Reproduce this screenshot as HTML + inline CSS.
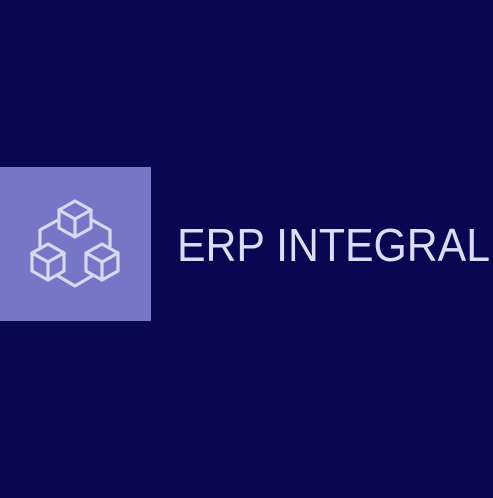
<!DOCTYPE html>
<html><head><style>
html,body{margin:0;padding:0;background:#070752;width:493px;height:498px;overflow:hidden}
</style></head><body>
<svg width="493" height="498" xmlns="http://www.w3.org/2000/svg">
<rect width="493" height="498" fill="#070752"/>
<rect x="0" y="167" width="151" height="154" fill="#7676c6"/>
<g fill="none" stroke="#d8d8f2" stroke-width="3.2" stroke-linejoin="round" stroke-linecap="round">
<!-- connecting hexagon -->
<polyline points="58,220 40,230 40,246"/>
<polyline points="92,220 110,230 110,246"/>
<polyline points="58,276 75,286 92,276"/>
<!-- top cube -->
<polygon points="75,201 91,210 91,228 75,237 59,228 59,210"/>
<polyline points="59,210 75,219 91,210"/><line x1="75" y1="219" x2="75" y2="237"/>
<!-- left cube -->
<polygon points="48,244 64,253 64,271 48,280 32,271 32,253"/>
<polyline points="32,253 48,262 64,253"/><line x1="48" y1="262" x2="48" y2="280"/>
<!-- right cube -->
<polygon points="102,244 118,253 118,271 102,280 86,271 86,253"/>
<polyline points="86,253 102,262 118,253"/><line x1="102" y1="262" x2="102" y2="280"/>
</g>
<text x="177" y="261" font-family="Liberation Sans, sans-serif" font-size="46" fill="#dcdcf6" textLength="313" lengthAdjust="spacingAndGlyphs">ERP INTEGRAL</text>
</svg>
</body></html>
